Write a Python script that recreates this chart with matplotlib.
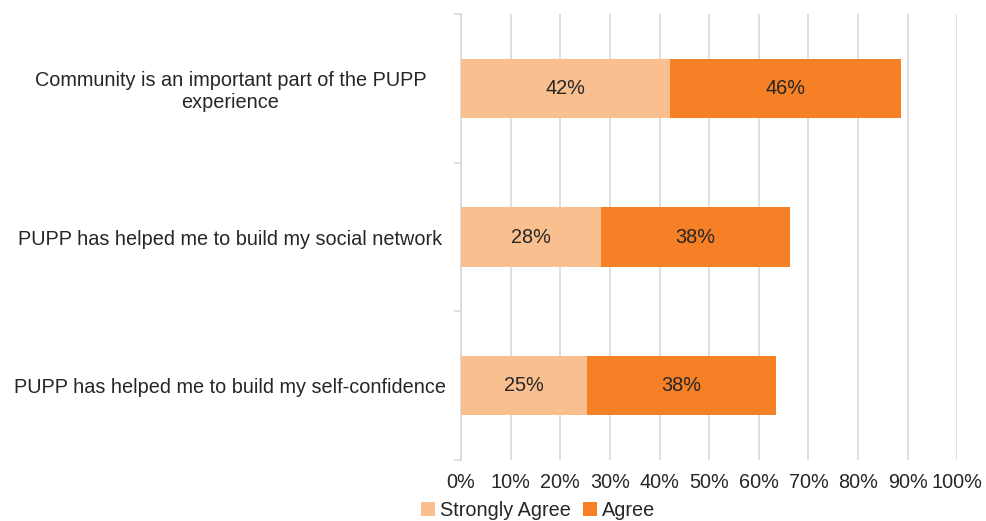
import matplotlib.pyplot as plt
from matplotlib.ticker import FixedLocator

plt.rcParams["font.family"] = ["Liberation Sans", "DejaVu Sans"]

categories = [
    "Community is an important part of the PUPP\nexperience",
    "PUPP has helped me to build my social network",
    "PUPP has helped me to build my self-confidence",
]
strongly_agree = [42.2, 28.2, 25.4]
agree = [46.5, 38.1, 38.1]
series_names = ["Strongly Agree", "Agree"]
xtick_values = [0, 10, 20, 30, 40, 50, 60, 70, 80, 90, 100]

LIGHT = "#f9bf8f"
DARK = "#f58025"
TEXT = "#262626"
GRID = "#d9d9d9"
FS = 14.3

fig = plt.figure(figsize=(9.87, 5.21), dpi=100)
ax = fig.add_axes([0.467, 0.117, 0.503, 0.856])

ypos = list(range(len(categories)))
b1 = ax.barh(ypos, strongly_agree, height=0.4, color=LIGHT, label=series_names[0], zorder=3)
b2 = ax.barh(ypos, agree, left=strongly_agree, height=0.4, color=DARK, label=series_names[1], zorder=3)

for bars, vals in ((b1, strongly_agree), (b2, agree)):
    ax.bar_label(bars, labels=[f"{round(v)}%" for v in vals], label_type="center",
                 fontsize=FS, color=TEXT)

ax.set_xlim(0, 100)
ax.set_ylim(len(categories) - 0.5, -0.5)
ax.set_xticks(xtick_values)
ax.set_xticklabels([f"{v}%" for v in xtick_values], fontsize=FS, color=TEXT)
ax.set_yticks(ypos)
ax.set_yticklabels(categories, fontsize=FS, color=TEXT, ha="center", linespacing=1.15)
ax.tick_params(axis="y", which="major", length=0, pad=166)
ax.tick_params(axis="x", length=0, pad=9)
ax.yaxis.set_minor_locator(FixedLocator([i - 0.5 for i in range(len(categories) + 1)]))
ax.tick_params(axis="y", which="minor", length=5, color=GRID, width=1.2)

ax.grid(axis="x", color=GRID, linewidth=1.2, zorder=0)
for side in ("top", "right", "bottom"):
    ax.spines[side].set_visible(False)
ax.spines["left"].set_color(GRID)
ax.spines["left"].set_linewidth(1.2)

fig.legend(handles=[b1, b2], loc="center", bbox_to_anchor=(0.545, 0.02), ncol=2,
           frameon=False, fontsize=FS, handlelength=0.7, handleheight=0.7,
           handletextpad=0.25, columnspacing=0.6, labelcolor=TEXT)

fig.savefig("out.png", dpi=100)
